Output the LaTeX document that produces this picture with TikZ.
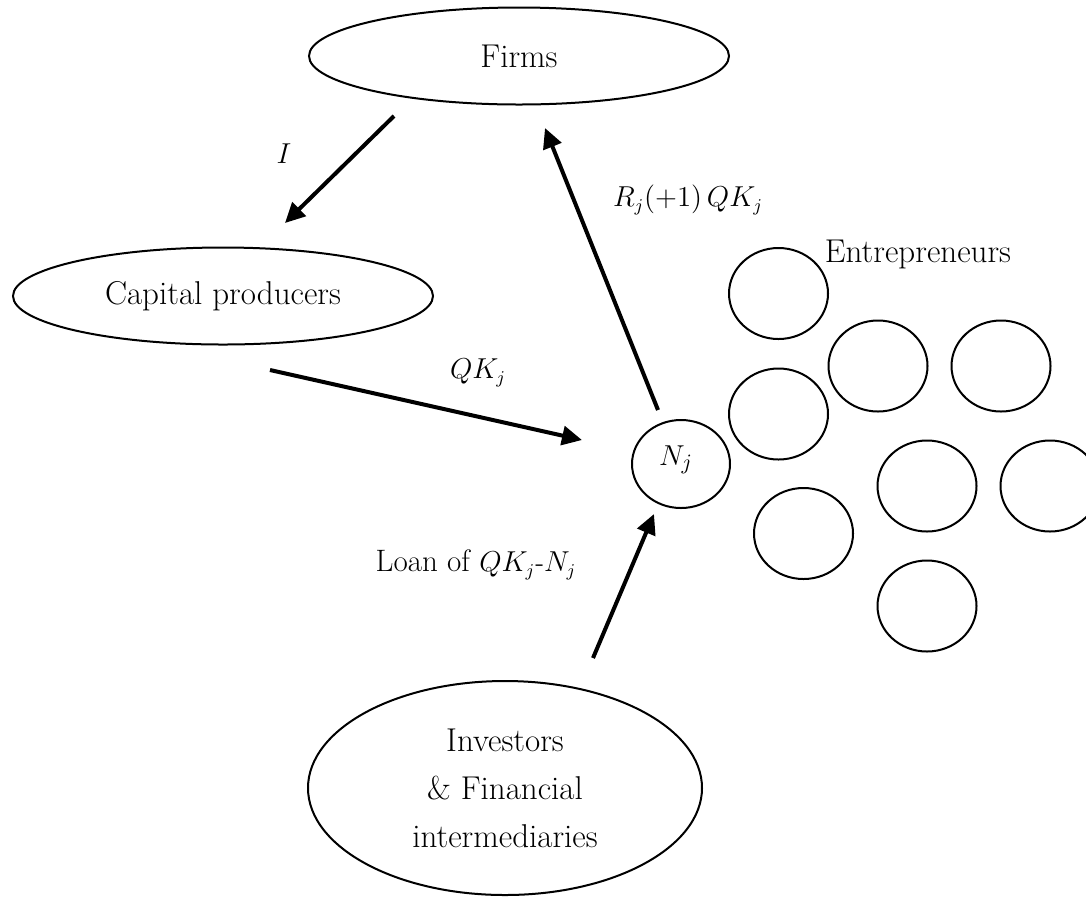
\documentclass[tikz,border=0pt]{standalone}
\usetikzlibrary{shapes.geometric,arrows.meta}
\begin{document}
\begin{tikzpicture}[x=0.5pt,y=-0.5pt,
  every node/.style={font=\fontsize{16.5}{24}\selectfont},
  mathlabel/.style={font=\fontsize{13.5}{16}\selectfont},
  oval/.style={draw,ellipse,line width=1pt,inner sep=0pt},
  ent/.style={oval,minimum width=49.5pt,minimum height=45.5pt},
  flow/.style={line width=2pt,-{Triangle[length=10pt,width=9.5pt]}}]
\useasboundingbox (0,0) rectangle (1086,896);
% main actors
\node[oval,minimum width=210pt,minimum height=48.5pt] (firms) at (519,56) {Firms};
\node[oval,minimum width=210pt,minimum height=48.5pt] (cap) at (223,296) {Capital producers};
\node[oval,minimum width=197pt,minimum height=107pt,align=center] (inv) at (505,788)
  {Investors\\ \& Financial\\ intermediaries};
\node[oval,minimum width=49pt,minimum height=44pt] (nj) at (681,464) {};
\node[mathlabel,font=\fontsize{15}{18}\selectfont] (njlabel) at (676,460) {$N_j$};
% entrepreneurs
\node[ent] (e1) at (778.5,293.5) {};
\node[ent] (e2) at (878,366) {};
\node[ent] (e3) at (1001,366) {};
\node[ent] (e4) at (778.5,414) {};
\node[ent] (e5) at (927,486) {};
\node[ent] (e6) at (1050,486) {};
\node[ent] (e7) at (803.5,533.5) {};
\node[ent] (e8) at (927,606) {};
\node (entlabel) at (918,254) {Entrepreneurs};
% arrow end points
\coordinate (i0) at (394,116);
\coordinate (i1) at (285,223);
\coordinate (q0) at (270,370);
\coordinate (q1) at (582,440);
\coordinate (r0) at (658,410);
\coordinate (r1) at (545,128);
\coordinate (l0) at (593,658);
\coordinate (l1) at (654,514);
\draw[flow] (i0) -- (i1);
\draw[flow] (q0) -- (q1);
\draw[flow] (r0) -- (r1);
\draw[flow] (l0) -- (l1);
% labels
\node[mathlabel,font=\fontsize{15}{18}\selectfont] (ilabel) at (284,154) {$I$};
\node[mathlabel] (qlabel) at (478,373) {$QK_j$};
\node[mathlabel] (rlabel) at (688,200) {$R_j(+1)\,QK_j$};
\node[font=\fontsize{15.5}{18}\selectfont] (llabel) at (476,565) {Loan of {\fontsize{13.5}{16}\selectfont$QK_j$-$N_j$}};
\end{tikzpicture}
\end{document}
